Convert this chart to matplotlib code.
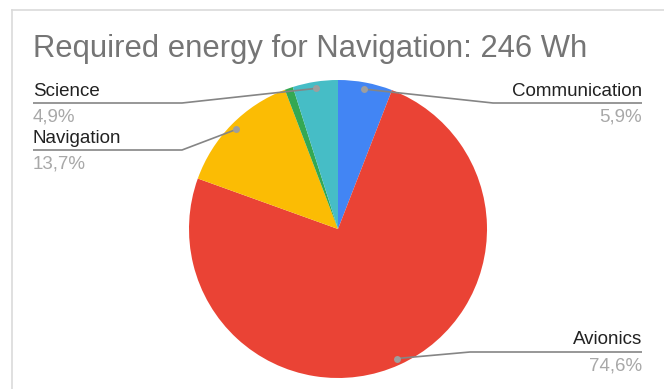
import matplotlib.pyplot as plt
import numpy as np

plt.rcParams['font.family'] = ['Liberation Sans', 'DejaVu Sans']

title = 'Required energy for Navigation: 246 Wh'
labels = ['Communication', 'Avionics', 'Navigation', 'Other', 'Science']
shares = [5.9, 74.6, 13.7, 0.9, 4.9]
pct_text = ['5,9%', '74,6%', '13,7%', '', '4,9%']
colors = ['#4285f4', '#ea4335', '#fbbc04', '#34a853', '#46bdc6']

W, H = 664, 389
fig = plt.figure(figsize=(W / 100, H / 100), dpi=100)
ax = fig.add_axes([0, 0, 1, 1])

# frame lines (top and left)
ax.plot([12, W], [H - 10, H - 10], color='#dadada', lw=1.2)
ax.plot([12, 12], [0, H - 10], color='#dadada', lw=1.2)

ax.text(33, H - 49, title, fontsize=22.3, color='#757575', va='center', ha='left')

cx, cy, R = 338, H - 229, 149
wedges, _ = ax.pie(shares, colors=colors, startangle=90, counterclock=False,
                   center=(cx, cy), radius=R, frame=True,
                   wedgeprops=dict(linewidth=0))
ax.set_xlim(0, W)
ax.set_ylim(0, H)
ax.set_aspect('equal')
ax.axis('off')

# leader lines: (slice index, elbow x, line y, text side)
leaders = [
    (0, 493, H - 103, 'right'),
    (1, 470, H - 352, 'right'),
    (2, 182, H - 150, 'left'),
    (4, 182, H - 103, 'left'),
]
for i, ex, ly, side in leaders:
    w = wedges[i]
    ang = np.deg2rad((w.theta1 + w.theta2) / 2)
    px = cx + 0.955 * R * np.cos(ang)
    py = cy + 0.955 * R * np.sin(ang)
    if side == 'right':
        end = 642
        tx, ha = 642, 'right'
    else:
        end = 33
        tx, ha = 33, 'left'
    ax.plot([px, ex, end], [py, ly, ly], color='#858585', lw=1.2,
            solid_capstyle='butt')
    ax.plot(px, py, 'o', color='#9e9e9e', ms=5, mec='none')
    ax.text(tx, ly + 12, labels[i], fontsize=13.5, color='#222222',
            ha=ha, va='center')
    ax.text(tx, ly - 14, pct_text[i], fontsize=13.5, color='#a8a8a8',
            ha=ha, va='center')

fig.savefig('out.png', dpi=100)
